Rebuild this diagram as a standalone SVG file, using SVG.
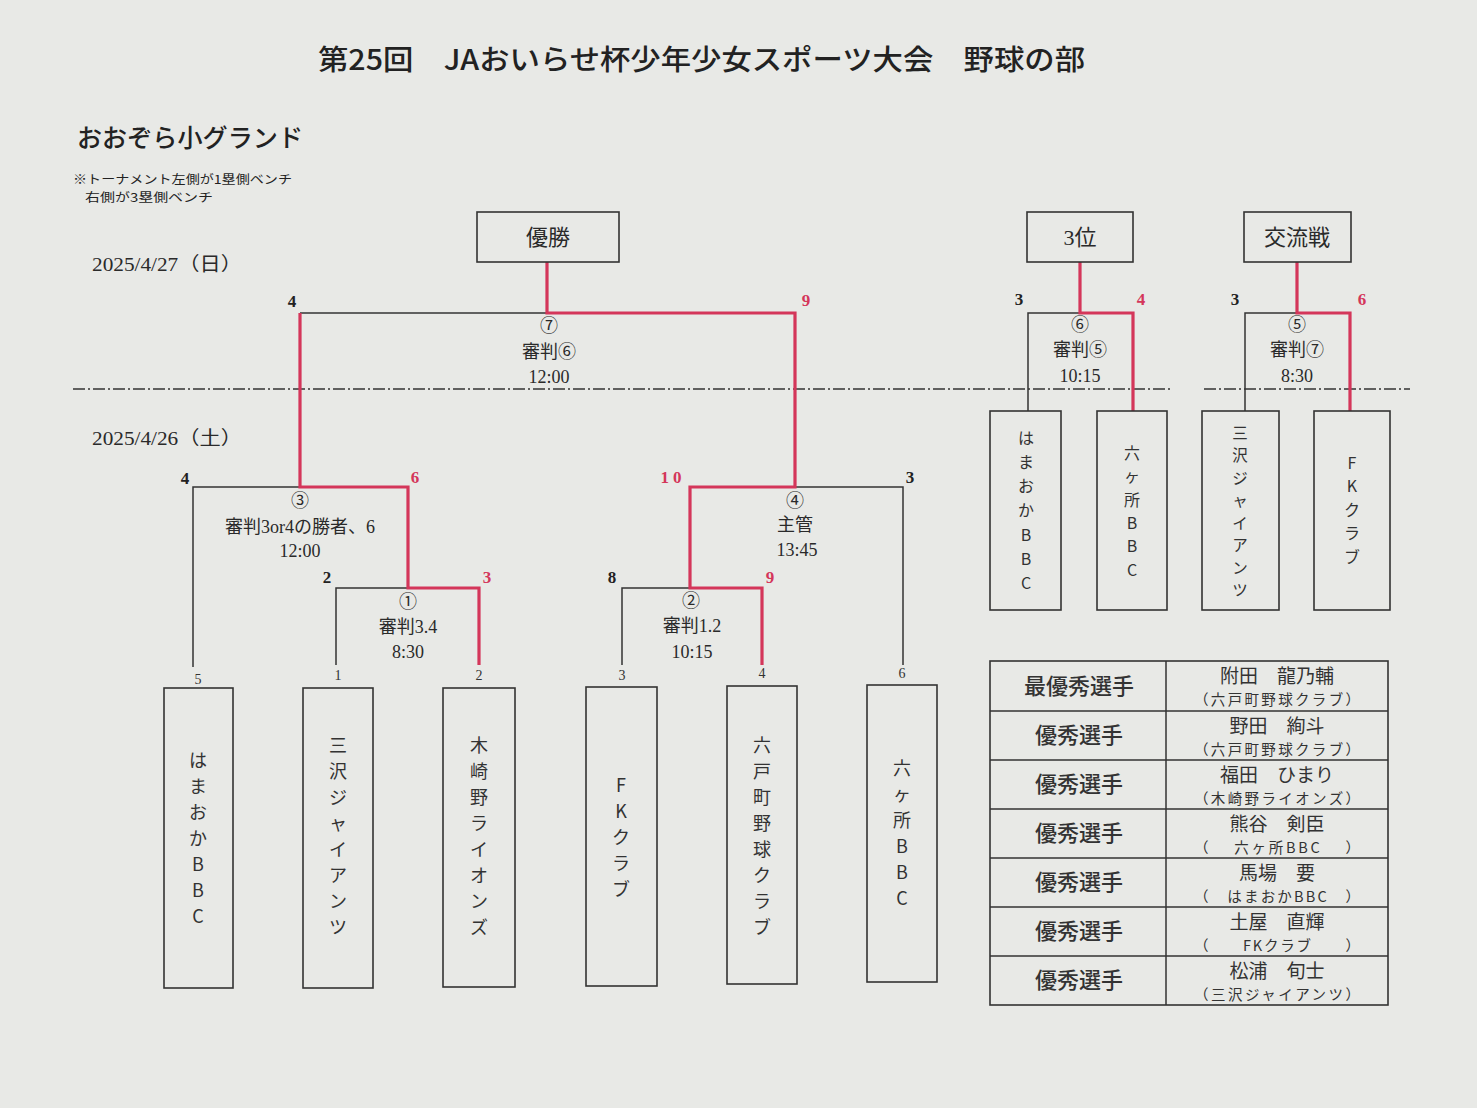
<svg xmlns="http://www.w3.org/2000/svg" width="1477" height="1108" viewBox="0 0 1477 1108">
<style>
.bg{fill:#e8e9e6}
.t{font-family:"Liberation Serif","Noto Sans CJK JP",serif;fill:#2a2a2a;text-anchor:middle}
.g{font-family:"Noto Sans CJK JP","Liberation Sans",sans-serif;fill:#222}
.k{fill:none;stroke:#333;stroke-width:1.5}
.r{fill:none;stroke:#d4365a;stroke-width:3.2}
.box{fill:none;stroke:#333;stroke-width:1.6}
.dd{fill:none;stroke:#333;stroke-width:1.3;stroke-dasharray:12 3 2 3}
.sc{font-family:"Liberation Serif",serif;font-weight:bold;font-size:17px;fill:#222;text-anchor:middle}
.sr{font-family:"Liberation Serif",serif;font-weight:bold;font-size:17px;fill:#d4365a;text-anchor:middle}
.sm{font-family:"Liberation Serif",serif;font-size:14px;fill:#333;text-anchor:middle}
.mid{font-size:18px}
.v{font-family:"Noto Sans CJK JP",sans-serif;font-size:18px;fill:#333;text-anchor:middle}
.vs{font-family:"Noto Sans CJK JP",sans-serif;font-size:16px;fill:#333;text-anchor:middle}
.aw{font-family:"Noto Sans CJK JP",sans-serif;fill:#333;text-anchor:middle}
.lab{font-size:22px;font-weight:500}
.nm{font-size:19px}
.tm{font-size:14.5px}
</style>
<rect class="bg" x="0" y="0" width="1477" height="1108"/>

<g id="title">
<text class="g" x="318" y="70" font-size="28" font-weight="500" textLength="767" lengthAdjust="spacingAndGlyphs">第25回　JAおいらせ杯少年少女スポーツ大会　野球の部</text>
<text class="g" x="77" y="147" font-size="25" font-weight="500" textLength="226" lengthAdjust="spacingAndGlyphs">おおぞら小グランド</text>
<text class="g" x="73" y="184" font-size="12" textLength="219" lengthAdjust="spacingAndGlyphs">※トーナメント左側が1塁側ベンチ</text>
<text class="g" x="85" y="201.5" font-size="12" textLength="128" lengthAdjust="spacingAndGlyphs">右側が3塁側ベンチ</text>
<text class="t" x="167" y="271" font-size="19" textLength="150" lengthAdjust="spacingAndGlyphs">2025/4/27（日）</text>
<text class="t" x="167" y="445" font-size="19" textLength="150" lengthAdjust="spacingAndGlyphs">2025/4/26（土）</text>
</g>

<g id="dividers">
<line class="dd" x1="73" y1="389" x2="1170" y2="389"/>
<line class="dd" x1="1204" y1="389" x2="1410" y2="389"/>
</g>

<g id="connectors">
<path class="k" d="M300,313 H547"/>
<path class="k" d="M193,667 V487 H300"/>
<path class="k" d="M336,665 V588 H408"/>
<path class="k" d="M622,665 V588 H690"/>
<path class="k" d="M795,487 H903 V665"/>
<path class="k" d="M1028,411 V313 H1080"/>
<path class="k" d="M1245,411 V313 H1297"/>
<path class="r" d="M547,262 V313 H795 V487 H690 V588 H762 V665"/>
<path class="r" d="M300,313 V487 H408 V588 H479 V665"/>
<path class="r" d="M1080,262 V313 H1133 V411"/>
<path class="r" d="M1297,262 V313 H1350 V411"/>
</g>

<g id="box-champion">
<rect class="box" x="477" y="212" width="142" height="50"/>
<text class="t" x="548" y="245" font-size="22">優勝</text>
</g>
<g id="box-third">
<rect class="box" x="1027" y="212" width="106" height="50"/>
<text class="t" x="1080" y="245" font-size="22">3位</text>
</g>
<g id="box-exchange">
<rect class="box" x="1244" y="212" width="107" height="50"/>
<text class="t" x="1297" y="245" font-size="22">交流戦</text>
</g>

<g id="game7">
<text class="sc" x="292" y="307">4</text>
<text class="sr" x="806" y="306">9</text>
<text class="t mid" x="549" y="332">⑦</text>
<text class="t mid" x="549" y="358">審判⑥</text>
<text class="t mid" x="549" y="383">12:00</text>
</g>
<g id="game3">
<text class="sc" x="185" y="484">4</text>
<text class="sr" x="415" y="483">6</text>
<text class="t mid" x="300" y="507">③</text>
<text class="t mid" x="300" y="533">審判3or4の勝者、6</text>
<text class="t mid" x="300" y="557">12:00</text>
</g>
<g id="game1">
<text class="sc" x="327" y="583">2</text>
<text class="sr" x="487" y="583">3</text>
<text class="t mid" x="408" y="608">①</text>
<text class="t mid" x="408" y="633">審判3.4</text>
<text class="t mid" x="408" y="658">8:30</text>
</g>
<g id="game4">
<text class="sr" x="673" y="483" letter-spacing="4">10</text>
<text class="sc" x="910" y="483">3</text>
<text class="t mid" x="795" y="507">④</text>
<text class="t mid" x="795" y="531">主管</text>
<text class="t mid" x="797" y="556">13:45</text>
</g>
<g id="game2">
<text class="sc" x="612" y="583">8</text>
<text class="sr" x="770" y="583">9</text>
<text class="t mid" x="691" y="607">②</text>
<text class="t mid" x="692" y="632">審判1.2</text>
<text class="t mid" x="692" y="658">10:15</text>
</g>
<g id="game6">
<text class="sc" x="1019" y="305">3</text>
<text class="sr" x="1141" y="305">4</text>
<text class="t mid" x="1080" y="331">⑥</text>
<text class="t mid" x="1080" y="356">審判⑤</text>
<text class="t mid" x="1080" y="382">10:15</text>
</g>
<g id="game5">
<text class="sc" x="1235" y="305">3</text>
<text class="sr" x="1362" y="305">6</text>
<text class="t mid" x="1297" y="331">⑤</text>
<text class="t mid" x="1297" y="356">審判⑦</text>
<text class="t mid" x="1297" y="382">8:30</text>
</g>

<g id="seeds">
<text class="sm" x="198" y="684">5</text>
<text class="sm" x="338" y="680">1</text>
<text class="sm" x="479" y="680">2</text>
<text class="sm" x="622" y="680">3</text>
<text class="sm" x="762" y="678">4</text>
<text class="sm" x="902" y="678">6</text>
</g>

<g id="team-hamaoka">
<rect class="box" x="164" y="688" width="69" height="300"/>
<text class="v"><tspan x="198" y="766.5">は</tspan><tspan x="198" y="792.5">ま</tspan><tspan x="198" y="818.5">お</tspan><tspan x="198" y="844.5">か</tspan><tspan x="198" y="870.5">B</tspan><tspan x="198" y="896.5">B</tspan><tspan x="198" y="922.5">C</tspan></text>
</g>
<g id="team-misawa">
<rect class="box" x="303" y="688" width="70" height="300"/>
<text class="v"><tspan x="338" y="751.5">三</tspan><tspan x="338" y="777.5">沢</tspan><tspan x="338" y="803.5">ジ</tspan><tspan x="338" y="829.5">ャ</tspan><tspan x="338" y="855.5">イ</tspan><tspan x="338" y="881.5">ア</tspan><tspan x="338" y="907.5">ン</tspan><tspan x="338" y="933.5">ツ</tspan></text>
</g>
<g id="team-kizakino">
<rect class="box" x="443" y="688" width="72" height="299"/>
<text class="v"><tspan x="479" y="751.5">木</tspan><tspan x="479" y="777.5">崎</tspan><tspan x="479" y="803.5">野</tspan><tspan x="479" y="829.5">ラ</tspan><tspan x="479" y="855.5">イ</tspan><tspan x="479" y="881.5">オ</tspan><tspan x="479" y="907.5">ン</tspan><tspan x="479" y="933.5">ズ</tspan></text>
</g>
<g id="team-fk">
<rect class="box" x="586" y="687" width="71" height="299"/>
<text class="v"><tspan x="621" y="791.5">F</tspan><tspan x="621" y="817.5">K</tspan><tspan x="621" y="843.5">ク</tspan><tspan x="621" y="869.5">ラ</tspan><tspan x="621" y="895.5">ブ</tspan></text>
</g>
<g id="team-rokunohe">
<rect class="box" x="727" y="686" width="70" height="298"/>
<text class="v"><tspan x="762" y="751.5">六</tspan><tspan x="762" y="777.5">戸</tspan><tspan x="762" y="803.5">町</tspan><tspan x="762" y="829.5">野</tspan><tspan x="762" y="855.5">球</tspan><tspan x="762" y="881.5">ク</tspan><tspan x="762" y="907.5">ラ</tspan><tspan x="762" y="933.5">ブ</tspan></text>
</g>
<g id="team-rokkasho">
<rect class="box" x="867" y="685" width="70" height="297"/>
<text class="v"><tspan x="902" y="774.5">六</tspan><tspan x="902" y="800.5">ヶ</tspan><tspan x="902" y="826.5">所</tspan><tspan x="902" y="852.5">B</tspan><tspan x="902" y="878.5">B</tspan><tspan x="902" y="904.5">C</tspan></text>
</g>

<g id="team-hamaoka-2">
<rect class="box" x="990" y="411" width="71" height="199"/>
<text class="vs"><tspan x="1026" y="443.8">は</tspan><tspan x="1026" y="468">ま</tspan><tspan x="1026" y="492.2">お</tspan><tspan x="1026" y="516.4">か</tspan><tspan x="1026" y="540.6">B</tspan><tspan x="1026" y="564.8">B</tspan><tspan x="1026" y="589">C</tspan></text>
</g>
<g id="team-rokkasho-2">
<rect class="box" x="1097" y="411" width="70" height="199"/>
<text class="vs"><tspan x="1132" y="458.8">六</tspan><tspan x="1132" y="482.2">ヶ</tspan><tspan x="1132" y="505.6">所</tspan><tspan x="1132" y="529">B</tspan><tspan x="1132" y="552.4">B</tspan><tspan x="1132" y="575.8">C</tspan></text>
</g>
<g id="team-misawa-2">
<rect class="box" x="1202" y="411" width="77" height="199"/>
<text class="vs" font-size="15.5" style="font-size:15.5px"><tspan x="1240" y="438.6">三</tspan><tspan x="1240" y="461.1">沢</tspan><tspan x="1240" y="483.6">ジ</tspan><tspan x="1240" y="506.1">ャ</tspan><tspan x="1240" y="528.6">イ</tspan><tspan x="1240" y="551.1">ア</tspan><tspan x="1240" y="573.6">ン</tspan><tspan x="1240" y="596.1">ツ</tspan></text>
</g>
<g id="team-fk-2">
<rect class="box" x="1314" y="411" width="76" height="199"/>
<text class="vs"><tspan x="1352" y="468.8">F</tspan><tspan x="1352" y="492.3">K</tspan><tspan x="1352" y="515.8">ク</tspan><tspan x="1352" y="539.3">ラ</tspan><tspan x="1352" y="562.8">ブ</tspan></text>
</g>

<g id="awards">
<rect class="box" x="990" y="661" width="398" height="344"/>
<path class="k" d="M1166,661 V1005 M990,711 H1388 M990,760 H1388 M990,809 H1388 M990,858 H1388 M990,907 H1388 M990,956 H1388"/>
<text class="aw lab" x="1079" y="694">最優秀選手</text>
<text class="aw lab" x="1079" y="743">優秀選手</text>
<text class="aw lab" x="1079" y="792">優秀選手</text>
<text class="aw lab" x="1079" y="841">優秀選手</text>
<text class="aw lab" x="1079" y="890">優秀選手</text>
<text class="aw lab" x="1079" y="939">優秀選手</text>
<text class="aw lab" x="1079" y="988">優秀選手</text>
<text class="aw nm" x="1277" y="683">附田　龍乃輔</text>
<text class="aw tm" x="1277" y="705" textLength="166">（六戸町野球クラブ）</text>
<text class="aw nm" x="1277" y="733">野田　絢斗</text>
<text class="aw tm" x="1277" y="754.5" textLength="166">（六戸町野球クラブ）</text>
<text class="aw nm" x="1277" y="782">福田　ひまり</text>
<text class="aw tm" x="1277" y="803.5" textLength="166">（木崎野ライオンズ）</text>
<text class="aw nm" x="1277" y="831">熊谷　剣臣</text>
<text class="aw tm" x="1277" y="852.5" textLength="166">（　 六ヶ所BBC　 ）</text>
<text class="aw nm" x="1277" y="880">馬場　要</text>
<text class="aw tm" x="1277" y="901.5" textLength="166">（　はまおかBBC　）</text>
<text class="aw nm" x="1277" y="929">土屋　直輝</text>
<text class="aw tm" x="1277" y="950.5" textLength="166">（　　FKクラブ　　）</text>
<text class="aw nm" x="1277" y="978">松浦　旬士</text>
<text class="aw tm" x="1277" y="999.5" textLength="166">（三沢ジャイアンツ）</text>
</g>
</svg>
